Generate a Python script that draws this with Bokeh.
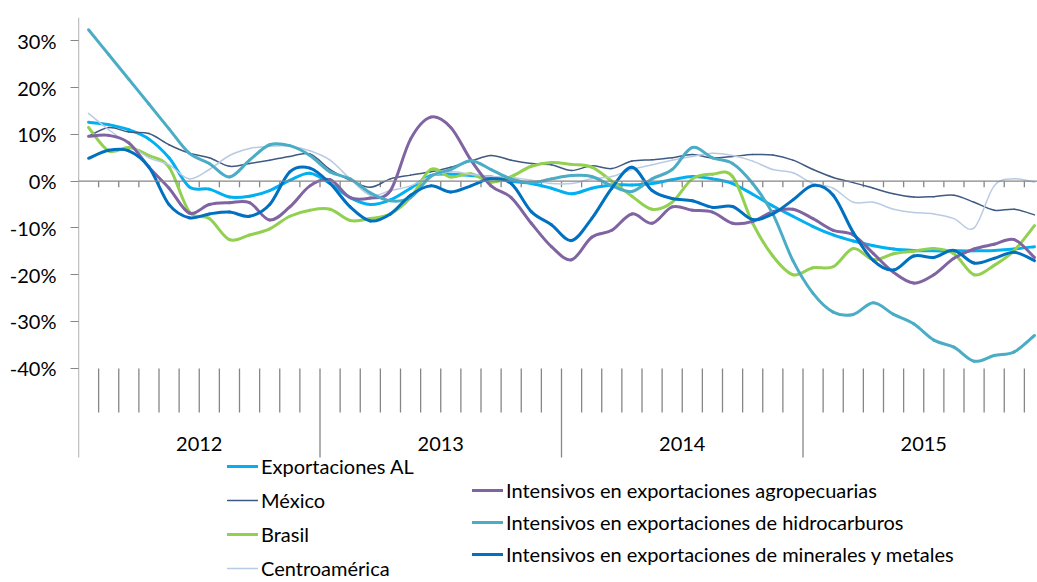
from bokeh.plotting import figure
from bokeh.models import Range1d, FixedTicker, Legend, LegendItem, Span
from bokeh.embed import file_html
from bokeh.resources import INLINE
from bokeh.core.properties import value

# ---------------- data ----------------
years = ["2012", "2013", "2014", "2015"]
months_per_year = 12
y_ticks = [-40, -30, -20, -10, 0, 10, 20, 30]
y_tick_labels = ["-40%", "-30%", "-20%", "-10%", "0%", "10%", "20%", "30%"]

exportaciones_al = [12.6, 12.1, 11.0, 9.0, 5.0, -1.2, -1.7, -3.4, -3.2, -2.0, 0.2, 1.7,
                    -0.5, -3.5, -5.0, -4.0, -1.5, 1.2, 1.5, 1.2, 0.9, 0.0, -0.5, -1.5,
                    -2.7, -1.5, -0.8, -0.8, -0.5, 0.3, 1.0, 0.5, -0.5, -2.8, -5.3, -7.5,
                    -9.7, -11.5, -12.8, -13.8, -14.5, -14.8, -14.9, -14.9, -14.9, -14.8, -14.5, -14.0]
mexico = [9.6, 11.5, 10.5, 10.2, 7.8, 6.0, 5.0, 3.2, 3.8, 4.5, 5.3, 5.8,
          2.5, 0.2, -1.3, 0.5, 1.3, 2.0, 3.0, 4.3, 5.5, 4.5, 3.8, 3.5,
          2.3, 3.3, 2.7, 4.3, 4.6, 5.0, 5.7, 5.0, 5.3, 5.7, 5.6, 4.5,
          2.5, 0.8, -0.3, -1.5, -2.7, -3.4, -3.3, -3.0, -4.5, -6.2, -6.0, -7.2]
brasil = [11.5, 6.5, 7.2, 5.5, 3.0, -6.5, -8.0, -12.5, -11.5, -10.2, -7.5, -6.2,
          -6.0, -8.4, -8.0, -7.0, -3.5, 2.5, 0.9, 1.6, -0.2, 1.0, 3.2, 4.0,
          3.6, 3.0, 0.0, -3.2, -6.0, -4.5, 0.5, 1.5, 1.0, -9.0, -16.0, -20.0,
          -18.5, -18.3, -14.4, -16.8, -15.5, -15.0, -14.4, -15.5, -20.0, -18.0, -14.8, -9.5]
centroamerica = [14.5, 11.0, 8.0, 5.0, 3.5, 0.5, 2.5, 5.5, 7.0, 7.5, 7.5, 6.5,
                 4.5, 0.5, -3.0, -2.0, -1.0, 1.0, 2.0, 1.5, 1.0, 0.8, 0.2, -0.5,
                 -0.5, 0.5, 1.0, 2.5, 3.5, 4.5, 5.3, 6.0, 5.5, 4.3, 2.5, 1.8,
                 -0.5, -1.5, -4.5, -4.5, -6.0, -6.7, -7.0, -8.0, -10.0, -1.0, 0.5, -0.2]
agropecuarias = [9.6, 9.8, 8.2, 3.0, -1.5, -6.8, -5.0, -4.6, -4.6, -8.3, -5.5, -1.0,
                 0.3, -3.5, -3.6, -2.0, 9.0, 13.7, 11.5, 4.5, -1.0, -3.5, -9.0, -14.0,
                 -16.8, -12.0, -10.5, -7.0, -9.0, -5.5, -6.2, -6.6, -9.0, -8.6, -6.5, -6.0,
                 -8.0, -10.5, -11.5, -15.5, -19.5, -21.8, -20.0, -16.5, -14.5, -13.5, -12.5, -16.3]
hidrocarburos = [32.4, 27.1, 21.8, 16.5, 11.2, 6.0, 3.8, 0.9, 4.5, 7.8, 7.6, 5.5,
                 2.0, 0.5, -2.5, -4.2, -3.5, 1.0, 2.5, 4.4, 2.5, 0.5, -0.3, 0.5,
                 1.2, 1.0, -1.0, -2.2, 0.5, 2.5, 7.2, 5.0, 3.8, -0.5, -7.0, -17.0,
                 -24.0, -28.0, -28.5, -26.0, -28.5, -30.5, -34.0, -35.5, -38.5, -37.3, -36.5, -33.0]
minerales = [4.9, 6.6, 6.5, 3.0, -5.0, -7.8, -7.0, -6.6, -7.5, -5.0, 2.0, 2.8,
             -0.5, -5.5, -8.5, -7.0, -3.0, -1.0, -2.3, -1.0, 0.5, -0.5, -6.5, -9.3,
             -12.7, -8.0, -1.5, 3.0, -2.0, -3.7, -4.2, -5.6, -5.4, -8.2, -7.0, -4.0,
             -0.9, -3.0, -11.0, -17.0, -19.0, -16.0, -16.3, -14.8, -17.5, -16.5, -15.2, -17.0]

series = [
    ("Exportaciones AL", exportaciones_al, "#00B0F0", 3.0),
    ("México", mexico, "#3F5A82", 1.5),
    ("Brasil", brasil, "#92D050", 3.0),
    ("Centroamérica", centroamerica, "#B9CBE4", 1.5),
    ("Intensivos en exportaciones agropecuarias", agropecuarias, "#8064A2", 3.0),
    ("Intensivos en exportaciones de hidrocarburos", hidrocarburos, "#4BACC6", 3.0),
    ("Intensivos en exportaciones de minerales y metales", minerales, "#0070C0", 3.0),
]

# ---------------- layout constants ----------------
FONT = "Lato"
AXIS_COLOR = "#868686"
n = len(exportaciones_al)
x = [i + 0.5 for i in range(n)]
px_per_month = 20.125
px_per_pct = 4.675
W, H = 1037, 582
left_border, top_border = 78, 17
zero_img = 180.7
x_end = (W - left_border) / px_per_month
y_top = (zero_img - top_border) / px_per_pct
y_bottom = -(H - zero_img) / px_per_pct

def pct_at(img_y):
    # convert a vertical image position to % units
    return -(img_y - zero_img) / px_per_pct

p = figure(width=W, height=H, output_backend="svg", toolbar_location=None,
           x_range=Range1d(0, x_end), y_range=Range1d(y_bottom, y_top),
           x_axis_type=None, min_border_left=left_border, min_border_right=0,
           min_border_top=top_border, min_border_bottom=0)
p.grid.visible = False
p.outline_line_color = None
p.background_fill_color = "white"
p.border_fill_color = "white"

yax = p.yaxis[0]
yax.ticker = FixedTicker(ticks=y_ticks)
yax.major_label_overrides = {t: l for t, l in zip(y_ticks, y_tick_labels)}
yax.axis_line_color = None
yax.major_tick_line_color = AXIS_COLOR
yax.major_tick_out = 8
yax.major_tick_in = 0
yax.minor_tick_line_color = None
yax.major_label_standoff = 14
yax.major_label_text_font = FONT
yax.major_label_text_font_size = "20px"
yax.major_label_text_color = "#000000"

# vertical axis line (from top down through category band)
axis_bottom = pct_at(457)
p.segment(x0=[0], y0=[y_top], x1=[0], y1=[axis_bottom], line_color=AXIS_COLOR, line_width=1.3)

# horizontal axis at 0%
p.add_layout(Span(location=0, dimension="width", line_color=AXIS_COLOR, line_width=1.3))
bounds = list(range(1, n))
tick_len = 6 / px_per_pct
p.segment(x0=bounds, y0=[0] * len(bounds), x1=bounds, y1=[-tick_len] * len(bounds),
          line_color=AXIS_COLOR, line_width=1.3)

# category band: month lines and year separators
band_top = pct_at(368)
month_bottom = pct_at(412)
month_lines = [b for b in bounds if b % months_per_year != 0]
p.segment(x0=month_lines, y0=[band_top] * len(month_lines), x1=month_lines,
          y1=[month_bottom] * len(month_lines), line_color=AXIS_COLOR, line_width=1.3)
year_lines = [k * months_per_year for k in range(1, len(years))]
p.segment(x0=year_lines, y0=[band_top] * len(year_lines), x1=year_lines,
          y1=[axis_bottom] * len(year_lines), line_color=AXIS_COLOR, line_width=1.3)
year_x = [k * months_per_year + months_per_year / 2 for k in range(len(years))]
p.text(x=year_x, y=[pct_at(443)] * len(years), text=years, text_align="center",
       text_baseline="middle", text_font=value(FONT), text_font_size="20px", text_color="#000000")

# series, drawn as smooth curves (Bezier segments through every data point)
def smooth_segments(xs, ys):
    m = len(xs)
    seg = dict(x0=[], y0=[], x1=[], y1=[], cx0=[], cy0=[], cx1=[], cy1=[])
    for i in range(m - 1):
        xa, ya = xs[max(i - 1, 0)], ys[max(i - 1, 0)]
        xb, yb = xs[i], ys[i]
        xc, yc = xs[i + 1], ys[i + 1]
        xd, yd = xs[min(i + 2, m - 1)], ys[min(i + 2, m - 1)]
        seg["x0"].append(xb); seg["y0"].append(yb)
        seg["x1"].append(xc); seg["y1"].append(yc)
        seg["cx0"].append(xb + (xc - xa) / 6); seg["cy0"].append(yb + (yc - ya) / 6)
        seg["cx1"].append(xc - (xd - xb) / 6); seg["cy1"].append(yc - (yd - yb) / 6)
    return seg

renderers = {}
for name, vals, color, lw in series:
    r = p.bezier(line_color=color, line_width=lw, line_cap="round", **smooth_segments(x, vals))
    renderers[name] = r

common = dict(label_text_font=FONT, label_text_font_size="20px", label_text_color="#000000",
              glyph_width=31, glyph_height=20, label_standoff=3, label_height=20,
              padding=0, margin=0, border_line_color=None, background_fill_alpha=0,
              orientation="vertical")
leg1 = Legend(items=[LegendItem(label=s[0], renderers=[renderers[s[0]]]) for s in series[:4]],
              location=(149, 2), spacing=10, **common)
leg2 = Legend(items=[LegendItem(label=s[0], renderers=[renderers[s[0]]]) for s in series[4:]],
              location=(394, 16), spacing=8, **common)
p.add_layout(leg1)
p.add_layout(leg2)

html = file_html(p, INLINE)
open("out.html", "w").write(html)
